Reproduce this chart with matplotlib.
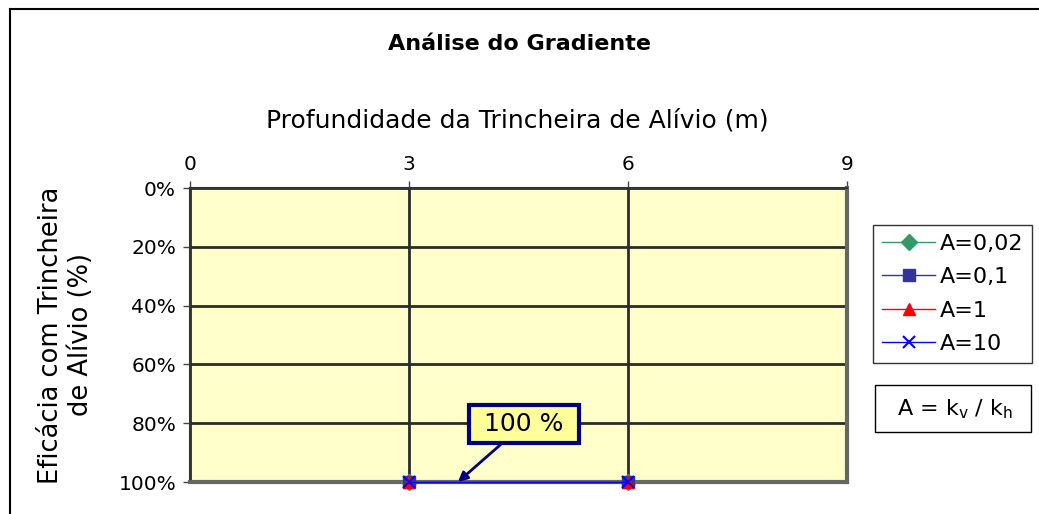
import matplotlib
matplotlib.use('Agg')
import matplotlib.pyplot as plt
import matplotlib.patches as mpatches
from matplotlib.lines import Line2D

# ── Data ──────────────────────────────────────────────────────────────────────
depth = [3, 6]                       # profundidade (m)
series_labels = ['A=0,02', 'A=0,1', 'A=1', 'A=10']
eff_002 = [100, 100]
eff_01 = [100, 100]
eff_1 = [100, 100]
eff_10 = [100, 100]
x_ticks = [0, 3, 6, 9]
y_ticks = [0, 20, 40, 60, 80, 100]

# ── Styles ────────────────────────────────────────────────────────────────────
PLOT_BG = '#FFFFCC'
GRID_C = '#2B2B2B'
styles = [
    dict(color='#339966', marker='D', ms=8, mfc='#339966', mec='#339966'),
    dict(color='#333399', marker='s', ms=8, mfc='#333399', mec='#333399'),
    dict(color='#FF0000', marker='^', ms=9, mfc='#FF0000', mec='#FF0000'),
    dict(color='#0000FF', marker='x', ms=9, mfc='#0000FF', mec='#0000FF', mew=1.5),
]

plt.rcParams['font.family'] = 'DejaVu Sans'
plt.rcParams['mathtext.default'] = 'regular'

fig = plt.figure(figsize=(10.39, 5.14), dpi=100)
W, H = 1039, 514

# outer chart border (top & left visible)
fig.add_artist(Line2D([10 / W, 1.02], [1 - 9 / H, 1 - 9 / H],
                      transform=fig.transFigure, color='black', lw=1.5))
fig.add_artist(Line2D([10 / W, 10 / W], [-0.02, 1 - 9 / H],
                      transform=fig.transFigure, color='black', lw=1.5))

ax = fig.add_axes([190 / W, 1 - 482 / H, (847 - 190) / W, (482 - 188) / H])
ax.set_facecolor(PLOT_BG)

for ys, st, lbl in zip([eff_002, eff_01, eff_1, eff_10], styles, series_labels):
    ax.plot(depth, ys, lw=1, label=lbl, clip_on=False, zorder=5, **st)

ax.set_xlim(0, 9)
ax.set_ylim(100, 0)
ax.set_xticks(x_ticks)
ax.set_yticks(y_ticks)
ax.set_yticklabels([f'{v}%' for v in y_ticks])
ax.xaxis.tick_top()
ax.tick_params(axis='both', labelsize=14.5, length=5, width=1, color='#444444', pad=5)

ax.grid(True, color=GRID_C, lw=2)
ax.set_axisbelow(True)
for s in ['top', 'left']:
    ax.spines[s].set_color('#333333')
    ax.spines[s].set_linewidth(1.5)
for s in ['right', 'bottom']:
    ax.spines[s].set_color('#666666')
    ax.spines[s].set_linewidth(3)

fig.text(517 / W, 1 - 120 / H, 'Profundidade da Trincheira de Alívio (m)',
         ha='center', va='center', fontsize=18)
fig.text(66 / W, 1 - 335 / H, 'Eficácia com Trincheira\nde Alívio (%)',
         ha='center', va='center', rotation=90, fontsize=18.5, linespacing=1.2)

fig.text(520 / W, 1 - 44 / H, 'Análise do Gradiente', ha='center', va='center',
         fontsize=16, fontweight='bold')

# annotation
ax.annotate(' 100 % ', xy=(3.67, 100), xytext=(4.575, 80.3), fontsize=18,
            ha='center', va='center',
            bbox=dict(boxstyle='square,pad=0.28', fc='#FFFF99', ec='#000080', lw=3),
            arrowprops=dict(arrowstyle='-|>', color='#000080', lw=2,
                            shrinkA=0, shrinkB=0, mutation_scale=14))

leg = ax.legend(loc='upper left', bbox_to_anchor=(873 / W, 1 - 225 / H),
                bbox_transform=fig.transFigure, fontsize=16, frameon=True,
                fancybox=False, edgecolor='black', handlelength=2.4,
                handletextpad=0.2, borderpad=0.4, labelspacing=0.6,
                borderaxespad=0)
leg.get_frame().set_linewidth(1)

# A = kv / kh box
fig.add_artist(mpatches.Rectangle((875 / W, 1 - 432 / H), (1031 - 875) / W, (432 - 385) / H,
                                  transform=fig.transFigure, fc='white', ec='black', lw=1))
fig.text(955 / W, 1 - 409 / H, 'A = k$_{v}$ / k$_{h}$', ha='center', va='center',
         fontsize=16)

fig.savefig('out.png', dpi=100)
